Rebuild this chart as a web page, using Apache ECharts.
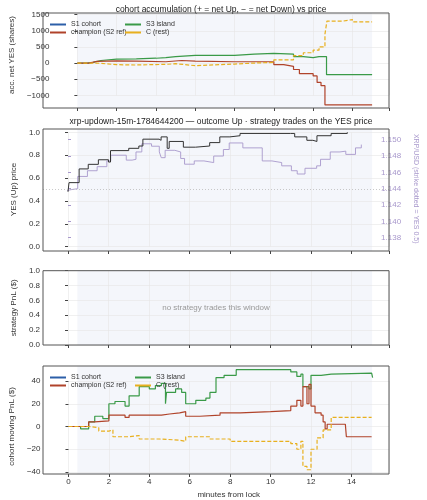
<!DOCTYPE html>
<html><head><meta charset="utf-8">
<script src="https://cdn.jsdelivr.net/npm/echarts@6/dist/echarts.min.js"></script>
<style>html,body{margin:0;padding:0;background:#fff}#c{width:427px;height:500px}</style>
</head><body><div id="c"></div>
<script>
// ---- data ----
const xTicks = [0,2,4,6,8,10,12,14];
// panel 1: accumulated net YES (shares)
const s3AccT = [0,0.5,0.8,1.2,2,3,4,4.5,5,6,8,9,10,11,11.5,12,12.1,12.3,12.4,12.68,15];
const s3AccV = [0,20,80,120,130,150,170,200,240,240,280,300,280,200,170,150,200,150,200,-360,-360];
const chAccT = [0,0.58,1,2,3,4.5,5.3,6,8,10,10.5,11,11.3,12,12.2,12.4,12.6,15];
const chAccV = [0,50,70,60,40,80,60,40,40,-50,-100,-200,-330,-400,-600,-700,-1300,-1290];
const cAccT = [0,1,2,3,4.5,5,6,8,9,10,11,11.5,12,12.3,12.6,12.7,13.5,14,15];
const cAccV = [0,-50,-60,-40,-20,-80,-30,0,20,100,230,320,400,500,900,1300,1350,1280,1270];
// panel 2: YES price and XRP/USD
const yesT = [0,0.05,0.55,1,1.5,2,2.1,3,3.5,3.7,4.5,4.6,4.9,5,5.7,6.3,7,7.5,8,8.5,11,11.2,11.8,12.1,12.3,13,13.8];
const yesV = [0.48,0.56,0.68,0.72,0.76,0.74,0.84,0.86,0.88,0.94,0.93,0.96,0.86,0.92,0.87,0.88,0.91,0.96,0.97,0.99,0.99,0.96,0.93,0.92,0.97,0.99,1.0];
const xrpT = [-0.5,0,0.2,0.5,1,1.5,2,2.2,3,3.3,3.5,3.8,4.3,4.7,4.8,5,5.5,5.8,6,6.5,7,7.5,8,8.3,9,10,10.5,11,11.5,11.8,12.2,12.8,13,13.5,14,14.3,14.8,15.1];
const xrpV = [1.1438,1.1439,1.1440,1.1455,1.1462,1.1467,1.1474,1.1481,1.1475,1.1476,1.1485,1.1495,1.1492,1.1485,1.1478,1.1487,1.1485,1.1477,1.1470,1.1474,1.1472,1.1480,1.1488,1.1496,1.1490,1.1474,1.1472,1.1468,1.1462,1.1458,1.1465,1.1468,1.1476,1.1485,1.1486,1.1482,1.1490,1.1494];
// panel 4: cohort moving PnL ($)
const s3PnlT = [0,0.6,1,1.3,1.7,2,2.3,2.8,3,3.5,4,4.3,4.6,4.8,4.85,5,5.3,5.6,5.8,6.3,6.8,7,7.3,7.7,8.3,11,11.3,11.5,11.6,11.9,12,12.5,13,15,15.05];
const s3PnlV = [0,-2,4,9,7,20,22,18,27,35,33,36,38,20,30,30,33,30,20,23,25,30,43,45,50,48,44,46,35,33,45,46,47,46,43];
const chPnlT = [0,0.6,1,1.3,2,2.8,3,4.6,5,5.5,5.8,6.5,7.5,8.5,10,11,11.3,11.5,11.6,11.8,11.9,12,12.2,12.5,12.6,12.7,12.8,13.7,13.75,15];
const chPnlV = [0,0,4,5,10,8,10,11,12,13,9,10,12,13,14,18,23,18,35,20,37,18,12,10,4,-2,2,2,-9,-9];
const cPnlT = [0,0.6,1,1.5,2,2.2,3,3.5,4.5,5.5,5.8,7,8,10,11,11.3,11.5,11.6,11.8,12,12.3,12.6,13,15];
const cPnlV = [0,0,-1,-4,-3,-9,-8,-11,-12,-13,-9,-11,-13,-13,-15,-20,-13,-35,-38,-20,-10,-3,8,8];
const s1T = [], s1V = [];

const pairs = (t,v)=>t.map((x,i)=>[x,v[i]]);
const C_S1='#2c5fa8', C_CH='#b0432a', C_S3='#3a9a48', C_C='#e8b01e', C_XRP='#a898cc';
const frames = [[43,13,389,108],[43,129,389,251],[43,270.7,389,345],[43,366,389,474]];
const XMAX = 321/20.24;
const mfmt = d => v => (v<0?'−':'') + Math.abs(v).toFixed(d);

const yA = (gi,min,max,iv,name,dec,extra)=>Object.assign({type:'value',gridIndex:gi,min,max,interval:iv,offset:25,
  name,nameLocation:'middle',nameGap:38,nameTextStyle:{fontSize:8,color:'#333'},
  axisLine:{show:false},axisTick:{show:true,length:3,lineStyle:{color:'#444'}},
  axisLabel:{fontSize:8,color:'#333',margin:3,formatter:mfmt(dec)},splitLine:{show:true,lineStyle:{color:'#e6e6e6',width:0.6}}},extra||{});
const xA = (gi,off,labels)=>({type:'value',gridIndex:gi,min:0,max:XMAX,interval:2,offset:off,
  axisLine:{show:false,onZero:false},axisTick:{show:true,length:3,lineStyle:{color:'#444'}},
  axisLabel:{show:labels,fontSize:8,color:'#333',margin:4,showMaxLabel:false},
  splitLine:{show:gi!==2,lineStyle:{color:'#e6e6e6',width:0.6}},
  name:labels?'minutes from lock':'',nameLocation:'middle',nameGap:17,nameTextStyle:{fontSize:8,color:'#333'}});
const ln = (name,data,xi,yi,color,dashed,w)=>({name,type:'line',step:'end',data,xAxisIndex:xi,yAxisIndex:yi,
  showSymbol:false,clip:false,lineStyle:{color,width:w||1.2,type:dashed?[4,2]:'solid'},itemStyle:{color},silent:true,animation:false});
const leg = (names,left,top)=>({orient:'vertical',left,top,itemGap:1,itemWidth:16,itemHeight:2,icon:'rect',
  textStyle:{fontSize:7,color:'#333'},data:names,selectedMode:false});

const option = {
  animation:false,
  title:[
    {text:'cohort accumulation (+ = net Up, − = net Down) vs price',left:216,top:0,textAlign:'center',textStyle:{fontSize:8.5,fontWeight:'normal',color:'#222'}},
    {text:'xrp-updown-15m-1784644200 — outcome Up · strategy trades on the YES price',left:216,top:112,textAlign:'center',textStyle:{fontSize:8.5,fontWeight:'normal',color:'#222'}}
  ],
  legend:[leg(['S1 cohort','champion (S2 ref)'],45,16),leg(['S3 island','C (rest)'],120,16),
          leg(['S1 cohort','champion (S2 ref)'],45,369),leg(['S3 island','C (rest)'],130,369)],
  grid:[
    {left:68,right:38,top:14.7,height:80.6},
    {left:68,right:38,top:132.3,height:114.4},
    {left:68,right:38,top:139.7,height:98},
    {left:68,right:38,top:270.7,height:74.3},
    {left:68,right:38,top:381,height:91}
  ],
  xAxis:[xA(0,12.7,false),xA(1,4.3,false),
    Object.assign(xA(2,0,false),{show:false}),xA(3,0,false),xA(4,2,true)],
  yAxis:[
    yA(0,-1000,1500,500,'acc. net YES (shares)',0,{nameGap:34}),
    yA(1,0,1,0.2,'YES (Up) price',1,{nameGap:25}),
    {type:'value',gridIndex:2,position:'right',min:1.138,max:1.150,interval:0.002,
      name:'XRP/USD (strike dotted = YES 0.5)',nameLocation:'middle',nameGap:32,nameRotate:-90,
      nameTextStyle:{fontSize:7,color:C_XRP},axisLine:{show:false},
      axisTick:{show:true,length:3,lineStyle:{color:C_XRP}},axisLabel:{fontSize:8,color:C_XRP,margin:5,formatter:v=>v.toFixed(3)},splitLine:{show:false}},
    yA(3,0,1,0.2,'strategy PnL ($)',1,{nameGap:25}),
    yA(4,-40,40,20,'cohort moving PnL ($)',0,{nameGap:22})
  ],
  series:[
    ln('S1 cohort',pairs(s1T,s1V),0,0,C_S1),
    ln('S3 island',pairs(s3AccT,s3AccV),0,0,C_S3),
    ln('champion (S2 ref)',pairs(chAccT,chAccV),0,0,C_CH),
    ln('C (rest)',pairs(cAccT,cAccV),0,0,C_C,true),
    ln('XRP',pairs(xrpT,xrpV),2,2,C_XRP,false,0.9),
    ln('YES',pairs(yesT,yesV),1,1,'#333',false,1),
    ln('S1 cohort',pairs(s1T,s1V),4,4,C_S1),
    ln('S3 island',pairs(s3PnlT,s3PnlV),4,4,C_S3),
    ln('champion (S2 ref)',pairs(chPnlT,chPnlV),4,4,C_CH),
    ln('C (rest)',pairs(cPnlT,cPnlV),4,4,C_C,true)
  ]
};
const chart = echarts.init(document.getElementById('c'),null,{renderer:'canvas'});
chart.setOption(option);
const px0 = chart.convertToPixel({xAxisIndex:0},0), px15 = chart.convertToPixel({xAxisIndex:0},15);
const y05 = chart.convertToPixel({yAxisIndex:1},0.5);
const g = [];
frames.forEach(f=>{
  g.push({type:'rect',z:-10,shape:{x:px0,y:f[1],width:px15-px0,height:f[3]-f[1]},style:{fill:'#f4f6fb'},silent:true});
  g.push({type:'rect',z:100,shape:{x:f[0],y:f[1],width:f[2]-f[0],height:f[3]-f[1]},style:{fill:'none',stroke:'#555',lineWidth:1},silent:true});
});
g.push({type:'line',z:5,shape:{x1:43,y1:y05,x2:389,y2:y05},style:{stroke:'#bbb',lineWidth:0.8,lineDash:[1,2]},silent:true});
g.push({type:'text',z:10,style:{text:'no strategy trades this window',x:216,y:308,align:'center',verticalAlign:'middle',fontSize:8,fill:'#999'},silent:true});
chart.setOption({graphic:g});
</script></body></html>
